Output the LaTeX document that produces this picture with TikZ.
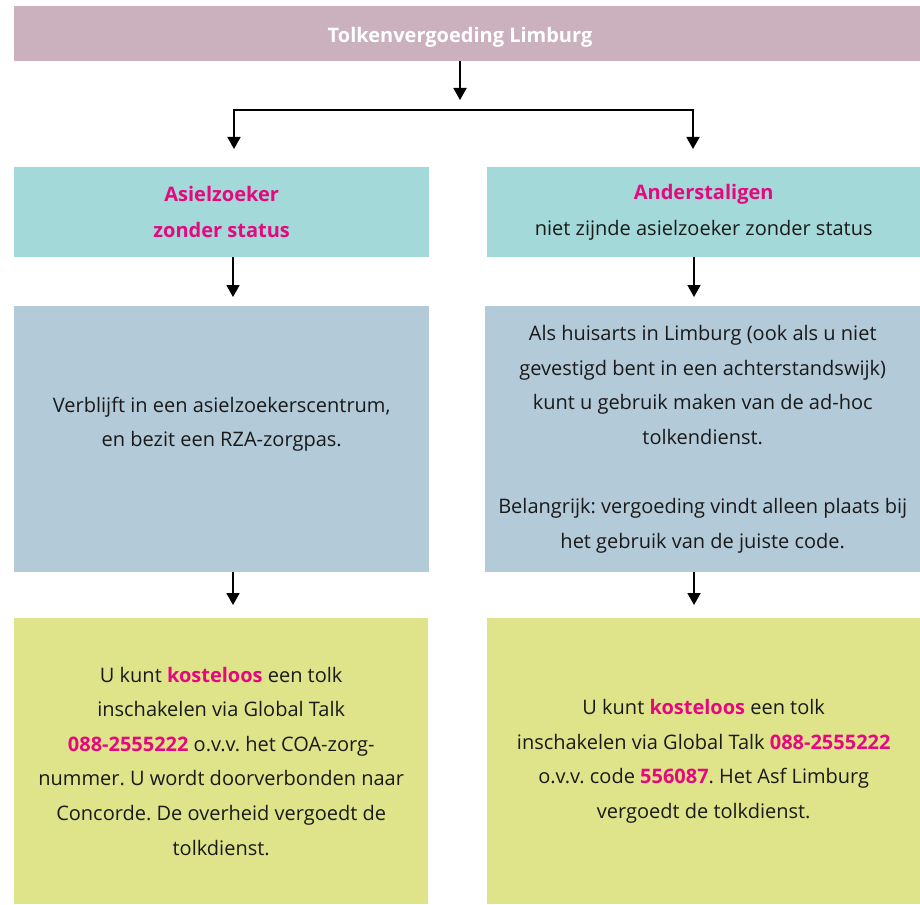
\documentclass[tikz,border=0pt]{standalone}
\usepackage{fontspec}
\setmainfont{Open Sans}
\usetikzlibrary{arrows.meta}
\definecolor{topc}{HTML}{CBB1BE}
\definecolor{tealc}{HTML}{A3D9D8}
\definecolor{bluec}{HTML}{B3CAD8}
\definecolor{greenc}{HTML}{DFE48A}
\definecolor{magc}{HTML}{E5097F}
\definecolor{txtc}{HTML}{1A1A1A}
\frenchspacing
\tikzset{
  box/.style={anchor=north west, inner sep=0pt, align=center, text=txtc,
    font=\fontsize{20}{34.6}\selectfont},
  arr/.style={line width=1.8pt, -{Triangle[width=13pt,length=12pt]}},
  ln/.style={line width=1.8pt}
}
\newcommand{\hl}[1]{\textbf{\textcolor{magc}{#1}}}
\begin{document}
\begin{tikzpicture}[x=1pt,y=-1pt]
\useasboundingbox (0,0) rectangle (920,904);
% boxes
\node[box, fill=topc, minimum width=906pt, minimum height=55pt] (top) at (14,6) {};
\node[text=white, font=\fontsize{20}{22}\selectfont\bfseries, inner sep=0pt] (title) at (460,37) {Tolkenvergoeding Limburg};
\node[box, fill=tealc, minimum width=415pt, minimum height=90pt,
  font=\fontsize{20}{36}\selectfont] (asiel) at (14,167)
  {\hl{Asielzoeker}\\\hl{zonder status}};
\node[box, fill=tealc, minimum width=433pt, minimum height=90pt,
  font=\fontsize{20}{36}\selectfont] (ander) at (487,167)
  {\hl{Anderstaligen}\\niet zijnde asielzoeker zonder status};
\node[box, fill=bluec, minimum width=415pt, minimum height=266pt] (verbl) at (14,306)
  {Verblijft in een asielzoekerscentrum,\\en bezit een RZA-zorgpas.\\\mbox{}};
\node[box, fill=bluec, minimum width=435pt, minimum height=266pt] (huis) at (485,306)
  {Als huisarts in Limburg (ook als u niet\\gevestigd bent in een achterstandswijk)\\kunt u gebruik maken van de ad-hoc\\tolkendienst.\\\mbox{}\\Belangrijk: vergoeding vindt alleen plaats bij\\het gebruik van de juiste code.};
\node[box, fill=greenc, minimum width=414pt, minimum height=286pt] (gl) at (14,618)
  {U kunt \hl{kosteloos} een tolk\\inschakelen via Global Talk\\\hl{088-2555222} o.v.v. het COA-zorg-\\nummer. U wordt doorverbonden naar\\Concorde. De overheid vergoedt de\\tolkdienst.};
\node[box, fill=greenc, minimum width=433pt, minimum height=286pt] (gr) at (487,618)
  {U kunt \hl{kosteloos} een tolk\\inschakelen via Global Talk \hl{088-2555222}\\o.v.v. code \hl{556087}. Het Asf Limburg\\vergoedt de tolkdienst.};
% connector points
\coordinate (ctip) at (460,100);
\coordinate (lsplit) at (234,110);
\coordinate (rsplit) at (693,110);
\coordinate (ltip1) at (234,149);
\coordinate (rtip1) at (693,149);
\coordinate (la) at (233,257);
\coordinate (ltip2) at (233,297);
\coordinate (ra) at (694,257);
\coordinate (rtip2) at (694,297);
\coordinate (lb) at (233,572);
\coordinate (ltip3) at (233,605);
\coordinate (rb) at (694,572);
\coordinate (rtip3) at (694,605);
% connectors
\draw[arr] (top.south -| ctip) -- (ctip);
\draw[ln] ([xshift=-0.9pt]lsplit) -- ([xshift=0.9pt]rsplit);
\draw[arr] (lsplit) -- (ltip1);
\draw[arr] (rsplit) -- (rtip1);
\draw[arr] (la) -- (ltip2);
\draw[arr] (ra) -- (rtip2);
\draw[arr] (lb) -- (ltip3);
\draw[arr] (rb) -- (rtip3);
\end{tikzpicture}
\end{document}
